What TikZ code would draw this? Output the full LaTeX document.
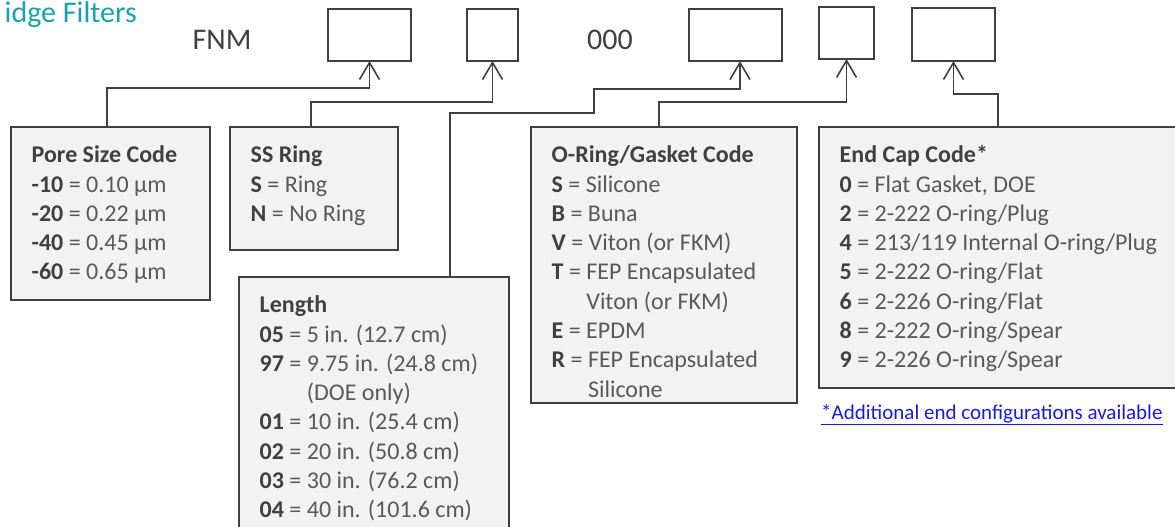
\documentclass[tikz,border=0pt]{standalone}
\usepackage{fontspec}
\setmainfont{Carlito}
\usetikzlibrary{arrows.meta,positioning}
\definecolor{ink}{HTML}{404040}
\definecolor{txt}{HTML}{595959}
\definecolor{panel}{HTML}{F2F2F2}
\definecolor{brandteal}{HTML}{17A2B0}
\definecolor{linkblue}{HTML}{1A1AE6}
\tikzset{
  slot/.style={draw=ink,fill=white,line width=1.6pt,inner sep=0pt,outer sep=0pt,anchor=north west},
  codebox/.style={draw=ink,fill=panel,line width=1.6pt,inner sep=0pt,outer sep=0pt,anchor=north west},
  codetxt/.style={anchor=north west,inner sep=0pt,align=left,text=txt,font=\fontsize{24}{29.3}\selectfont},
  bigtxt/.style={inner sep=0pt,text=ink,font=\fontsize{30}{36}\selectfont},
  conn/.style={-{Straight Barb[length=17pt,width=20pt,line width=1.6pt]},line width=1.6pt,draw=ink}
}
\newcommand{\opt}[2]{\textcolor{ink}{\textbf{#1}} = #2}
\newcommand{\boxhead}[1]{\strut\textcolor{ink}{\textbf{#1}}}

\begin{document}
\begin{tikzpicture}[x=1pt,y=-1pt]
  \useasboundingbox (0,0) rectangle (1175,527);
  % heading and part number
  \node[bigtxt,text=brandteal,anchor=base east] (title) at (137,22.5) {idge Filters};
  \node[bigtxt] (fnm) at (222,40) {FNM};
  \node[bigtxt] (zeros) at (610,40) {000};
  \node[slot,minimum width=83pt,minimum height=52pt] (s1) at (328,9) {};
  \node[slot,minimum width=51pt,minimum height=52pt] (s2) at (467,9) {};
  \node[slot,minimum width=93pt,minimum height=52pt] (s3) at (689,9) {};
  \node[slot,minimum width=55pt,minimum height=52pt] (s4) at (819,7) {};
  \node[slot,minimum width=83pt,minimum height=53pt] (s5) at (912,8) {};
  % code boxes
  \node[codebox,minimum width=199pt,minimum height=173pt] (pore) at (11,127) {};
  \node[codebox,minimum width=168pt,minimum height=123pt] (ring) at (230,127) {};
  \node[codebox,minimum width=270pt,minimum height=270pt] (len) at (239,277) {};
  \node[codebox,minimum width=266pt,minimum height=276pt] (oring) at (531,127) {};
  \node[codebox,minimum width=380pt,minimum height=261pt] (ecap) at (819,127) {};
  \node[codetxt] (poretxt) at ([xshift=20.5pt,yshift=-15pt]pore.north west)
    {\boxhead{Pore Size Code}\\ \opt{-10}{0.10 µm}\\ \opt{-20}{0.22 µm}\\ \opt{-40}{0.45 µm}\\ \opt{-60}{0.65 µm}};
  \node[codetxt] (ringtxt) at ([xshift=20.5pt,yshift=-15pt]ring.north west)
    {\boxhead{SS Ring}\\ \opt{S}{Ring}\\ \opt{N}{No Ring}};
  \node[codetxt] (lentxt) at ([xshift=20.5pt,yshift=-15pt]len.north west)
    {\boxhead{Length}\\ \opt{05}{5 in. (12.7 cm)}\\ \opt{97}{9.75 in. (24.8 cm)}\\
     \phantom{\textbf{97} = }(DOE only)\\ \opt{01}{10 in. (25.4 cm)}\\ \opt{02}{20 in. (50.8 cm)}\\
     \opt{03}{30 in. (76.2 cm)}\\ \opt{04}{40 in. (101.6 cm)}};
  \node[codetxt] (oringtxt) at ([xshift=20.5pt,yshift=-15pt]oring.north west)
    {\boxhead{O-Ring/Gasket Code}\\ \opt{S}{Silicone}\\ \opt{B}{Buna}\\ \opt{V}{Viton (or FKM)}\\
     \opt{T}{FEP Encapsulated}\\ \phantom{\textbf{T} = }Viton (or FKM)\\ \opt{E}{EPDM}\\
     \opt{R}{FEP Encapsulated}\\ \phantom{\textbf{R} = }Silicone};
  \node[codetxt] (ecaptxt) at ([xshift=20.5pt,yshift=-15pt]ecap.north west)
    {\boxhead{End Cap Code*}\\ \opt{0}{Flat Gasket, DOE}\\ \opt{2}{2-222 O-ring/Plug}\\
     \opt{4}{213/119 Internal O-ring/Plug}\\ \opt{5}{2-222 O-ring/Flat}\\ \opt{6}{2-226 O-ring/Flat}\\
     \opt{8}{2-222 O-ring/Spear}\\ \opt{9}{2-226 O-ring/Spear}};
  \node[inner sep=0pt,anchor=base west,text=linkblue,font=\fontsize{21}{25}\selectfont] (note) at (821,419)
    {\underline{*Additional end configurations available}};
  % connectors
  \draw[conn] ([xshift=-3.5pt]pore.north) -- ++(0,-39) -| (s1.south);
  \draw[conn] ([xshift=-3pt]ring.north) -- ++(0,-25) -| (s2.south);
  \draw[conn] ([xshift=76pt]len.north) -- ++(0,-164) -| ++(144,-24) -| ([xshift=4.5pt]s3.south);
  \draw[conn] ([xshift=-5pt]oring.north) -- ++(0,-25) -| (s4.south);
  \draw[conn] ([xshift=179pt]ecap.north west) -- ++(0,-33) -| (s5.south);
\end{tikzpicture}
\end{document}
